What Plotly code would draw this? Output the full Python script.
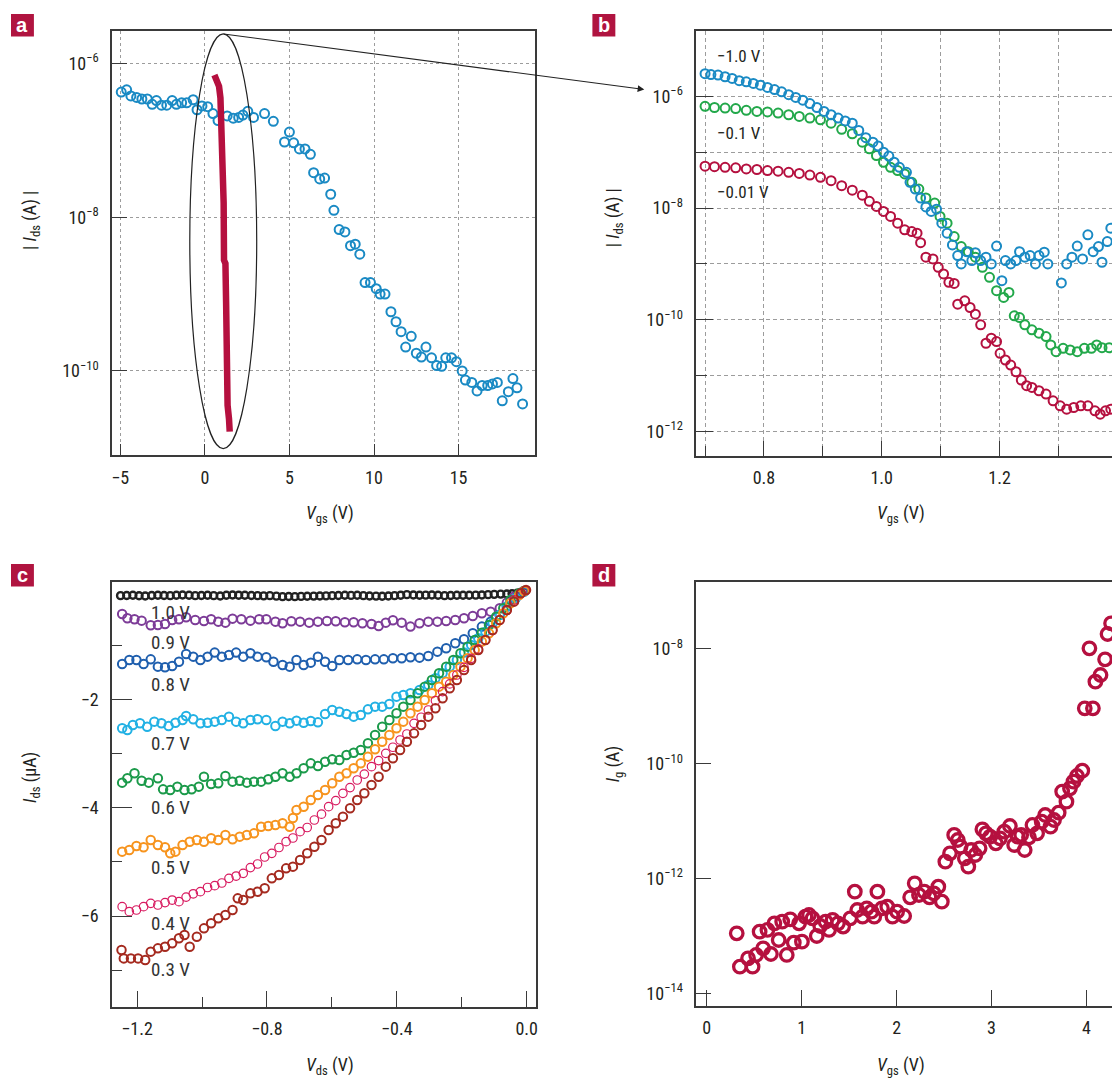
import plotly.graph_objects as go

# ---------------------------------------------------------------- data
# (a) transfer curve over the wide gate range: Vgs (V) and log10 |Ids| (A)
a_vgs = [-4.94, -4.62, -4.37, -4.03, -3.72, -3.40, -3.11, -2.86, -2.56, -2.25,
         -1.93, -1.68, -1.37, -1.07, -0.69, -0.46, -0.17, 0.17, 0.48, 0.78,
         1.32, 1.68, 2.00, 2.25, 2.54, 2.88, 3.53, 4.05, 5.00, 4.71,
         5.25, 5.59, 5.92, 6.24, 6.43, 6.79, 7.08, 7.44, 7.63, 7.94,
         8.28, 8.61, 8.89, 9.16, 9.47, 9.79, 10.13, 10.36, 10.65, 11.00,
         11.30, 11.60, 11.87, 12.20, 12.50, 12.80, 13.07, 13.40, 13.70, 14.00,
         14.24, 14.58, 14.87, 15.21, 15.40, 15.78, 16.09, 16.39, 16.72, 17.00,
         17.29, 17.58, 17.94, 18.21, 18.45, 18.78]
a_ids_log = [-6.37, -6.34, -6.42, -6.44, -6.46, -6.46, -6.53, -6.48, -6.54, -6.54,
             -6.48, -6.53, -6.51, -6.51, -6.47, -6.60, -6.55, -6.56, -6.65, -6.74,
             -6.68, -6.71, -6.70, -6.67, -6.62, -6.70, -6.65, -6.75, -6.89, -7.02,
             -7.03, -7.11, -7.11, -7.18, -7.42, -7.50, -7.49, -7.70, -7.91, -8.16,
             -8.19, -8.37, -8.35, -8.48, -8.85, -8.85, -8.93, -9.00, -9.00, -9.23,
             -9.36, -9.49, -9.69, -9.55, -9.77, -9.82, -9.69, -9.83, -9.93, -9.94,
             -9.83, -9.83, -9.88, -10.00, -10.12, -10.15, -10.26, -10.19, -10.19, -10.17,
             -10.15, -10.39, -10.27, -10.10, -10.22, -10.43]

# (a) narrow-range sweep drawn as a dense trace
a_fine_vgs = [0.567, 0.735, 0.84, 0.924, 0.966, 1.008, 1.092, 1.113, 1.134, 1.218,
              1.26, 1.282, 1.345, 1.429, 1.471]
a_fine_log = [-6.149, -6.229, -6.295, -6.448, -6.712, -7.196, -7.240, -7.811, -8.558, -8.602,
              -9.130, -10.009, -10.448, -10.624, -10.791]

# (b) transfer curves at three drain biases
b_vgs_10 = [0.700, 0.710, 0.722, 0.734, 0.746, 0.758, 0.770, 0.782, 0.794, 0.806,
            0.818, 0.830, 0.842, 0.854, 0.866, 0.878, 0.890, 0.902, 0.914, 0.926,
            0.938, 0.950, 0.961, 0.973, 0.985, 0.994, 1.003, 1.012, 1.021, 1.030,
            1.042, 1.048, 1.057, 1.066, 1.075, 1.084, 1.093, 1.102, 1.111, 1.120,
            1.129, 1.135, 1.144, 1.153, 1.159, 1.168, 1.177, 1.186, 1.195, 1.204,
            1.210, 1.219, 1.228, 1.234, 1.243, 1.252, 1.261, 1.267, 1.276, 1.282,
            1.305, 1.314, 1.323, 1.332, 1.341, 1.350, 1.359, 1.368, 1.374, 1.383, 1.389]
b_log_10 = [-5.594, -5.61, -5.62, -5.65, -5.68, -5.72, -5.74, -5.77, -5.80, -5.84,
            -5.88, -5.92, -5.97, -6.02, -6.07, -6.13, -6.20, -6.27, -6.33, -6.39,
            -6.44, -6.48, -6.61, -6.74, -6.82, -6.89, -7.00, -7.07, -7.18, -7.27,
            -7.36, -7.54, -7.66, -7.82, -7.98, -8.06, -8.02, -8.27, -8.45, -8.66,
            -8.85, -9.00, -8.78, -8.94, -8.80, -8.94, -8.88, -9.00, -8.68, -9.30,
            -8.94, -9.00, -8.94, -8.78, -8.88, -8.85, -9.00, -8.85, -8.79, -9.00,
            -9.34, -9.00, -8.88, -8.68, -8.91, -8.48, -8.78, -8.69, -8.97, -8.60, -8.36]

b_vgs_01 = [0.700, 0.716, 0.734, 0.752, 0.770, 0.788, 0.806, 0.824, 0.842, 0.860,
            0.878, 0.896, 0.914, 0.932, 0.950, 0.967, 0.979, 0.991, 1.003, 1.015,
            1.027, 1.039, 1.051, 1.063, 1.075, 1.090, 1.099, 1.111, 1.123, 1.135,
            1.147, 1.159, 1.171, 1.183, 1.195, 1.207, 1.216, 1.225, 1.234, 1.243,
            1.255, 1.267, 1.279, 1.287, 1.296, 1.308, 1.320, 1.332, 1.344, 1.356,
            1.365, 1.374, 1.386]
b_log_01 = [-6.18, -6.20, -6.21, -6.22, -6.25, -6.27, -6.28, -6.30, -6.33, -6.36,
            -6.39, -6.42, -6.48, -6.59, -6.67, -6.82, -6.94, -7.06, -7.18, -7.27,
            -7.33, -7.39, -7.54, -7.66, -7.82, -7.91, -8.15, -8.27, -8.51, -8.69,
            -8.78, -8.88, -9.06, -9.24, -9.48, -9.60, -9.51, -9.93, -9.96, -10.09,
            -10.18, -10.24, -10.30, -10.45, -10.57, -10.51, -10.54, -10.57, -10.51, -10.51,
            -10.45, -10.50, -10.50]

b_vgs_001 = [0.700, 0.716, 0.734, 0.752, 0.770, 0.788, 0.806, 0.824, 0.842, 0.860,
             0.878, 0.896, 0.914, 0.932, 0.950, 0.967, 0.979, 0.991, 1.003, 1.015,
             1.027, 1.039, 1.051, 1.060, 1.066, 1.075, 1.087, 1.096, 1.105, 1.114,
             1.123, 1.129, 1.141, 1.150, 1.159, 1.168, 1.177, 1.186, 1.195, 1.201,
             1.210, 1.219, 1.228, 1.237, 1.246, 1.255, 1.267, 1.279, 1.291, 1.303,
             1.314, 1.326, 1.338, 1.350, 1.362, 1.371, 1.380, 1.389]
b_log_001 = [-7.25, -7.26, -7.27, -7.28, -7.30, -7.31, -7.33, -7.34, -7.36, -7.38,
             -7.41, -7.45, -7.51, -7.60, -7.68, -7.77, -7.88, -7.97, -8.06, -8.15,
             -8.27, -8.39, -8.42, -8.45, -8.62, -8.88, -8.91, -9.06, -9.18, -9.33,
             -9.35, -9.72, -9.66, -9.78, -9.90, -10.09, -10.42, -10.33, -10.39, -10.60,
             -10.72, -10.81, -10.93, -11.08, -11.18, -11.21, -11.27, -11.33, -11.45, -11.54,
             -11.60, -11.57, -11.54, -11.54, -11.63, -11.69, -11.63, -11.60]
b_bias_labels = ["\u22121.0 V", "\u22120.1 V", "\u22120.01 V"]

# (c) output curves: Vds (V) vs Ids (uA) for gate voltages 1.0 ... 0.3 V
c_vds_10 = [-1.251, -1.232, -1.213, -1.194, -1.175, -1.155, -1.136, -1.117, -1.098, -1.079,
            -1.060, -1.040, -1.021, -1.002, -0.983, -0.964, -0.944, -0.925, -0.906, -0.887,
            -0.868, -0.848, -0.829, -0.810, -0.791, -0.771, -0.752, -0.733, -0.714, -0.695,
            -0.676, -0.656, -0.637, -0.618, -0.599, -0.580, -0.560, -0.541, -0.522, -0.503,
            -0.484, -0.464, -0.445, -0.426, -0.407, -0.388, -0.369, -0.349, -0.330, -0.311,
            -0.292, -0.273, -0.253, -0.234, -0.215, -0.196, -0.177, -0.157, -0.138, -0.119,
            -0.100, -0.080, -0.061, -0.045, -0.029, -0.018, -0.009]
c_ids_10 = [-0.086, -0.084, -0.080, -0.088, -0.092, -0.084, -0.080, -0.083, -0.086, -0.080,
            -0.074, -0.080, -0.086, -0.083, -0.080, -0.086, -0.092, -0.080, -0.074, -0.078,
            -0.080, -0.084, -0.086, -0.090, -0.086, -0.096, -0.105, -0.103, -0.105, -0.100,
            -0.098, -0.095, -0.092, -0.090, -0.086, -0.083, -0.080, -0.082, -0.080, -0.086,
            -0.092, -0.095, -0.098, -0.092, -0.086, -0.078, -0.068, -0.074, -0.080, -0.077,
            -0.074, -0.080, -0.086, -0.083, -0.080, -0.080, -0.080, -0.077, -0.074, -0.068,
            -0.062, -0.058, -0.055, -0.050, -0.043, -0.030, -0.012]

c_vds_09 = [-1.246, -1.230, -1.208, -1.186, -1.158, -1.136, -1.114, -1.092, -1.071, -1.049,
            -1.021, -0.994, -0.972, -0.950, -0.928, -0.906, -0.879, -0.851, -0.824, -0.802,
            -0.774, -0.752, -0.725, -0.698, -0.670, -0.643, -0.615, -0.588, -0.560, -0.533,
            -0.506, -0.478, -0.456, -0.434, -0.412, -0.385, -0.358, -0.330, -0.303, -0.275,
            -0.248, -0.220, -0.193, -0.166, -0.138, -0.111, -0.083, -0.061, -0.039, -0.012]
c_ids_09 = [-0.425, -0.505, -0.523, -0.548, -0.634, -0.628, -0.609, -0.535, -0.523, -0.486,
            -0.535, -0.554, -0.523, -0.566, -0.585, -0.511, -0.523, -0.548, -0.523, -0.523,
            -0.566, -0.597, -0.560, -0.566, -0.585, -0.566, -0.554, -0.560, -0.578, -0.578,
            -0.597, -0.609, -0.646, -0.585, -0.542, -0.585, -0.658, -0.597, -0.566, -0.566,
            -0.554, -0.535, -0.505, -0.462, -0.412, -0.382, -0.320, -0.215, -0.105, -0.012]

c_vds_08 = [-1.246, -1.224, -1.202, -1.180, -1.158, -1.136, -1.114, -1.092, -1.071, -1.049,
            -1.027, -1.005, -0.983, -0.961, -0.939, -0.917, -0.895, -0.873, -0.851, -0.829,
            -0.802, -0.780, -0.752, -0.730, -0.709, -0.687, -0.665, -0.643, -0.621, -0.599,
            -0.577, -0.550, -0.522, -0.495, -0.467, -0.440, -0.412, -0.385, -0.358, -0.330,
            -0.303, -0.275, -0.248, -0.220, -0.193, -0.166, -0.138, -0.111, -0.083, -0.061,
            -0.034, -0.009]
c_ids_08 = [-1.348, -1.274, -1.274, -1.348, -1.262, -1.397, -1.409, -1.385, -1.305, -1.163,
            -1.212, -1.274, -1.212, -1.138, -1.212, -1.182, -1.138, -1.212, -1.151, -1.212,
            -1.225, -1.305, -1.366, -1.397, -1.274, -1.366, -1.323, -1.212, -1.305, -1.385,
            -1.274, -1.274, -1.262, -1.274, -1.262, -1.262, -1.243, -1.243, -1.225, -1.231,
            -1.200, -1.120, -1.058, -0.966, -0.892, -0.782, -0.658, -0.566, -0.443, -0.289,
            -0.135, -0.012]

c_vds_07 = [-1.246, -1.230, -1.213, -1.191, -1.169, -1.147, -1.125, -1.103, -1.082, -1.060,
            -1.049, -1.027, -1.005, -0.983, -0.961, -0.939, -0.917, -0.895, -0.873, -0.851,
            -0.829, -0.802, -0.774, -0.752, -0.730, -0.709, -0.687, -0.665, -0.643, -0.621,
            -0.599, -0.577, -0.555, -0.533, -0.511, -0.489, -0.467, -0.445, -0.423, -0.401,
            -0.380, -0.358, -0.330, -0.303, -0.281, -0.259, -0.237, -0.215, -0.193, -0.171,
            -0.149, -0.127, -0.105, -0.083, -0.061, -0.034, -0.007]
c_ids_07 = [-2.535, -2.566, -2.474, -2.443, -2.505, -2.412, -2.443, -2.492, -2.431, -2.382,
            -2.308, -2.369, -2.443, -2.431, -2.412, -2.382, -2.320, -2.412, -2.443, -2.382,
            -2.369, -2.382, -2.492, -2.412, -2.443, -2.394, -2.431, -2.400, -2.425, -2.271,
            -2.197, -2.228, -2.271, -2.320, -2.289, -2.185, -2.135, -2.135, -2.086, -1.951,
            -1.920, -1.889, -1.828, -1.735, -1.612, -1.520, -1.397, -1.274, -1.138, -0.997,
            -0.874, -0.751, -0.597, -0.443, -0.289, -0.135, -0.012]

c_vds_06 = [-1.246, -1.230, -1.208, -1.186, -1.164, -1.136, -1.120, -1.098, -1.076, -1.054,
            -1.032, -1.010, -0.994, -0.972, -0.950, -0.928, -0.906, -0.884, -0.862, -0.840,
            -0.818, -0.796, -0.774, -0.752, -0.730, -0.709, -0.687, -0.665, -0.643, -0.621,
            -0.599, -0.577, -0.555, -0.533, -0.511, -0.489, -0.467, -0.445, -0.423, -0.401,
            -0.380, -0.358, -0.336, -0.314, -0.292, -0.270, -0.248, -0.226, -0.204, -0.182,
            -0.160, -0.138, -0.116, -0.094, -0.072, -0.050, -0.023, -0.007]
c_ids_06 = [-3.538, -3.458, -3.366, -3.502, -3.538, -3.458, -3.662, -3.674, -3.612, -3.674,
            -3.662, -3.612, -3.428, -3.563, -3.551, -3.415, -3.520, -3.502, -3.538, -3.520,
            -3.520, -3.477, -3.428, -3.366, -3.428, -3.366, -3.274, -3.182, -3.231, -3.151,
            -3.108, -3.120, -3.028, -2.985, -2.935, -2.812, -2.658, -2.505, -2.382, -2.258,
            -2.135, -2.012, -1.889, -1.766, -1.643, -1.520, -1.397, -1.274, -1.151, -1.028,
            -0.905, -0.769, -0.628, -0.474, -0.320, -0.166, -0.043, 0.006]

c_vds_05 = [-1.246, -1.224, -1.202, -1.180, -1.158, -1.136, -1.114, -1.098, -1.082, -1.060,
            -1.038, -1.016, -0.994, -0.972, -0.950, -0.928, -0.906, -0.884, -0.862, -0.840,
            -0.818, -0.796, -0.774, -0.752, -0.730, -0.720, -0.709, -0.687, -0.665, -0.643,
            -0.621, -0.599, -0.577, -0.555, -0.533, -0.511, -0.489, -0.467, -0.445, -0.423,
            -0.401, -0.380, -0.358, -0.336, -0.314, -0.292, -0.270, -0.248, -0.226, -0.204,
            -0.182, -0.160, -0.138, -0.116, -0.094, -0.072, -0.050, -0.023, -0.007]
c_ids_05 = [-4.812, -4.782, -4.708, -4.732, -4.597, -4.689, -4.732, -4.843, -4.812, -4.689,
            -4.628, -4.597, -4.628, -4.566, -4.597, -4.505, -4.585, -4.535, -4.505, -4.474,
            -4.351, -4.338, -4.320, -4.289, -4.351, -4.190, -4.043, -3.982, -3.858, -3.766,
            -3.674, -3.551, -3.428, -3.366, -3.274, -3.182, -3.058, -2.923, -2.782, -2.658,
            -2.535, -2.412, -2.258, -2.135, -2.012, -1.889, -1.766, -1.674, -1.551, -1.397,
            -1.243, -1.089, -0.935, -0.782, -0.597, -0.412, -0.228, -0.074, 0.0]

c_vds_04 = [-1.246, -1.224, -1.202, -1.180, -1.158, -1.136, -1.114, -1.092, -1.071, -1.049,
            -1.027, -1.005, -0.983, -0.961, -0.939, -0.917, -0.895, -0.873, -0.851, -0.829,
            -0.807, -0.785, -0.763, -0.741, -0.720, -0.698, -0.676, -0.654, -0.632, -0.610,
            -0.588, -0.566, -0.544, -0.522, -0.500, -0.478, -0.456, -0.434, -0.412, -0.390,
            -0.369, -0.347, -0.325, -0.303, -0.281, -0.259, -0.237, -0.215, -0.193, -0.171,
            -0.149, -0.127, -0.105, -0.083, -0.061, -0.039, -0.018, -0.004]
c_ids_04 = [-5.828, -5.920, -5.889, -5.828, -5.766, -5.797, -5.752, -5.705, -5.735, -5.651,
            -5.590, -5.551, -5.474, -5.440, -5.391, -5.305, -5.262, -5.212, -5.106, -5.040,
            -4.911, -4.843, -4.735, -4.628, -4.560, -4.443, -4.366, -4.228, -4.120, -3.982,
            -3.870, -3.735, -3.630, -3.489, -3.380, -3.243, -3.132, -2.997, -2.885, -2.751,
            -2.640, -2.443, -2.331, -2.197, -2.025, -1.858, -1.716, -1.551, -1.410, -1.243,
            -1.070, -0.905, -0.732, -0.535, -0.362, -0.166, -0.043, 0.006]

c_vds_03 = [-1.248, -1.241, -1.219, -1.197, -1.175, -1.158, -1.136, -1.114, -1.092, -1.071,
            -1.054, -1.038, -1.016, -0.994, -0.972, -0.950, -0.928, -0.906, -0.890, -0.873,
            -0.851, -0.829, -0.807, -0.785, -0.763, -0.741, -0.720, -0.698, -0.676, -0.654,
            -0.632, -0.610, -0.588, -0.566, -0.544, -0.522, -0.500, -0.478, -0.456, -0.434,
            -0.412, -0.390, -0.369, -0.347, -0.325, -0.303, -0.281, -0.259, -0.237, -0.215,
            -0.193, -0.171, -0.149, -0.127, -0.105, -0.083, -0.061, -0.039, -0.018, -0.002]
c_ids_03 = [-6.628, -6.782, -6.782, -6.782, -6.812, -6.658, -6.597, -6.566, -6.505, -6.412,
            -6.351, -6.566, -6.382, -6.228, -6.135, -6.043, -5.982, -5.889, -5.674, -5.705,
            -5.582, -5.551, -5.489, -5.305, -5.243, -5.120, -5.089, -4.966, -4.843, -4.720,
            -4.597, -4.412, -4.289, -4.166, -4.012, -3.858, -3.735, -3.582, -3.428, -3.243,
            -3.089, -2.935, -2.782, -2.628, -2.474, -2.320, -2.166, -1.982, -1.797, -1.643,
            -1.458, -1.274, -1.089, -0.905, -0.720, -0.535, -0.351, -0.197, -0.043, 0.018]

c_gate_labels = ["1.0 V", "0.9 V", "0.8 V", "0.7 V", "0.6 V", "0.5 V", "0.4 V", "0.3 V"]

# (d) gate leakage: Vgs (V) and log10 Ig (A)
d_vgs = [0.316, 0.349, 0.435, 0.483, 0.520, 0.557, 0.594, 0.639, 0.676, 0.713,
         0.758, 0.795, 0.843, 0.880, 0.917, 0.973, 1.003, 1.040, 1.077, 1.114,
         1.159, 1.196, 1.252, 1.289, 1.326, 1.382, 1.437, 1.512, 1.560, 1.586,
         1.642, 1.686, 1.735, 1.765, 1.798, 1.846, 1.902, 1.957, 2.006, 2.080,
         2.143, 2.191, 2.236, 2.292, 2.347, 2.392, 2.440, 2.477, 2.514, 2.563,
         2.607, 2.645, 2.674, 2.719, 2.756, 2.786, 2.830, 2.875, 2.904, 2.942,
         2.986, 3.046, 3.090, 3.135, 3.194, 3.239, 3.276, 3.313, 3.350, 3.395,
         3.432, 3.481, 3.529, 3.566, 3.622, 3.659, 3.708, 3.745, 3.790, 3.827,
         3.864, 3.901, 3.957, 3.983, 4.069, 4.032, 4.095, 4.149, 4.197, 4.223, 4.260]
d_ig_log = [-12.954, -13.534, -13.389, -13.534, -13.331, -12.925, -13.215, -12.895, -13.314, -12.779,
            -13.070, -12.750, -13.331, -12.710, -13.116, -12.779, -13.099, -12.663, -12.634, -12.692,
            -13.000, -12.826, -12.750, -12.895, -12.721, -12.779, -12.837, -12.692, -12.228, -12.547,
            -12.663, -12.518, -12.576, -12.663, -12.228, -12.518, -12.489, -12.663, -12.576, -12.652,
            -12.326, -12.083, -12.286, -12.228, -12.326, -12.257, -12.141, -12.402, -11.705, -11.560,
            -11.240, -11.328, -11.444, -11.647, -11.792, -11.502, -11.589, -11.473, -11.142, -11.211,
            -11.270, -11.386, -11.299, -11.182, -11.084, -11.415, -11.270, -11.240, -11.502, -11.281,
            -11.066, -11.211, -11.008, -10.892, -11.095, -10.979, -10.851, -10.485, -10.660, -10.427,
            -10.311, -10.213, -10.120, -9.034, -9.034, -7.988, -8.569, -8.453, -8.180, -7.739, -7.553]

# ---------------------------------------------------------------- style
W, H = 1114, 1079
FONT = ("Liberation Sans Narrow, Arial Narrow, Roboto Condensed, "
        "DejaVu Sans Condensed, Liberation Sans, sans-serif")
INK = "#231f20"
FRAME = "#3a3a3a"
GRID = "#9c9c9c"
CRIMSON = "#b5103f"
BLUE_A = "#1a8ac4"
GREEN_B = "#22a84a"

C_COLORS = ["#222222", "#7d3c98", "#1f5fae", "#22b1e4",
            "#1b9a4a", "#f7941e", "#d81b60", "#a52a1f"]


def fx(p):
    return p / W


def fy(p):
    return 1 - p / H


def pow10(vals):
    return [10 ** v for v in vals]


def sci(e):
    return "10<sup>\u2212%d</sup>" % e


def open_markers(color, size, width):
    return dict(symbol="circle-open", size=size, color=color,
                line=dict(color=color, width=width))


fig = go.Figure()

# (a)
fig.add_trace(go.Scatter(x=a_vgs, y=pow10(a_ids_log), mode="markers",
                         marker=open_markers(BLUE_A, 9, 2), xaxis="x", yaxis="y"))
fig.add_trace(go.Scatter(x=a_fine_vgs, y=pow10(a_fine_log), mode="lines",
                         line=dict(color=CRIMSON, width=6.5), xaxis="x", yaxis="y"))

# (b)
fig.add_trace(go.Scatter(x=b_vgs_01, y=pow10(b_log_01), mode="markers",
                         marker=open_markers(GREEN_B, 9, 2), xaxis="x2", yaxis="y2"))
fig.add_trace(go.Scatter(x=b_vgs_10, y=pow10(b_log_10), mode="markers",
                         marker=open_markers(BLUE_A, 9, 2), xaxis="x2", yaxis="y2"))
fig.add_trace(go.Scatter(x=b_vgs_001, y=pow10(b_log_001), mode="markers",
                         marker=open_markers(CRIMSON, 9, 2), xaxis="x2", yaxis="y2"))

# (c)
c_series = [(c_vds_10, c_ids_10), (c_vds_09, c_ids_09), (c_vds_08, c_ids_08),
            (c_vds_07, c_ids_07), (c_vds_06, c_ids_06), (c_vds_05, c_ids_05),
            (c_vds_04, c_ids_04), (c_vds_03, c_ids_03)]
for i, (vx, vy) in enumerate(c_series):
    size, lw = 8.5, 2
    if i == 0:
        size, lw = 7, 2.4
    if i == 6:
        lw = 1.2
    fig.add_trace(go.Scatter(x=vx, y=vy, mode="markers",
                             marker=open_markers(C_COLORS[i], size, lw),
                             xaxis="x3", yaxis="y3"))

# (d)
fig.add_trace(go.Scatter(x=d_vgs, y=pow10(d_ig_log), mode="markers",
                         marker=open_markers(CRIMSON, 12.5, 3.3), xaxis="x4", yaxis="y4"))

# ---------------------------------------------------------------- axes
tickfont = dict(family=FONT, size=18, color=INK)
common = dict(ticks="inside", tickcolor=FRAME, tickwidth=1.3, showline=True,
              linecolor=FRAME, linewidth=1.5, zeroline=False, tickfont=tickfont,
              tickmode="array")
xc = dict(common, ticklabelstandoff=5)
yc = dict(common, ticklabelstandoff=8)

layout = dict(
    width=W, height=H, margin=dict(l=0, r=0, t=0, b=0),
    paper_bgcolor="white", plot_bgcolor="white", showlegend=False,
    font=dict(family=FONT, color=INK),
    xaxis=dict(xc, domain=[fx(111.4), fx(535.7)], anchor="y",
               range=[-5.48, 19.53], tickvals=[-5, 0, 5, 10, 15],
               ticktext=["\u22125", "0", "5", "10", "15"], ticklen=12, mirror=True,
               showgrid=True, gridcolor=GRID, griddash="dot", gridwidth=1),
    yaxis=dict(yc, domain=[fy(455.4), fy(31.4)], anchor="x", type="log",
               range=[-11.10, -5.58], tickvals=[1e-6, 1e-8, 1e-10],
               ticktext=[sci(6), sci(8), sci(10)], ticklen=15, mirror=True,
               showgrid=True, gridcolor=GRID, griddash="dot", gridwidth=1),
    xaxis2=dict(xc, domain=[fx(697.1), 1.0], anchor="y2",
                range=[0.685, 1.391], tickvals=[0.8, 1.0, 1.2, 1.4],
                ticktext=["0.8", "1.0", "1.2", "1.4"], ticklen=15, mirror=True,
                showgrid=True, gridcolor=GRID, griddash="4px,3px", gridwidth=1,
                minor=dict(tickmode="array", tickvals=[0.7, 0.9, 1.1, 1.3], ticks="inside",
                           ticklen=10, tickcolor=FRAME, tickwidth=1.3, showgrid=True,
                           gridcolor=GRID, griddash="4px,3px", gridwidth=1)),
    yaxis2=dict(yc, domain=[fy(456.1), fy(31.4)], anchor="x2", type="log",
                range=[-12.44, -4.838], tickvals=[1e-6, 1e-8, 1e-10, 1e-12],
                ticktext=[sci(6), sci(8), sci(10), sci(12)], ticklen=17, mirror=False,
                showgrid=True, gridcolor=GRID, griddash="4px,3px", gridwidth=1,
                minor=dict(tickmode="array", tickvals=[1e-7, 1e-9, 1e-11], ticks="inside",
                           ticklen=11, tickcolor=FRAME, tickwidth=1.3, showgrid=True,
                           gridcolor=GRID, griddash="4px,3px", gridwidth=1)),
    xaxis3=dict(xc, domain=[fx(111.4), fx(536.4)], anchor="y3",
                range=[-1.277, 0.0286], tickvals=[-1.2, -0.8, -0.4, 0.0],
                ticktext=["\u22121.2", "\u22120.8", "\u22120.4", "0.0"], ticklen=16,
                mirror=True, showgrid=False,
                minor=dict(tickmode="array", tickvals=[-1.0, -0.6, -0.2], ticks="inside",
                           ticklen=10, tickcolor=FRAME, tickwidth=1.3, showgrid=False)),
    yaxis3=dict(yc, domain=[fy(1006.7), fy(582.3)], anchor="x3",
                range=[-7.674, 0.16], tickvals=[-2, -4, -6],
                ticktext=["\u22122", "\u22124", "\u22126"], ticklen=20, mirror=True,
                showgrid=False,
                minor=dict(tickmode="array", tickvals=[-1, -3, -5, -7], ticks="inside",
                           ticklen=10, tickcolor=FRAME, tickwidth=1.3, showgrid=False)),
    xaxis4=dict(xc, domain=[fx(697.1), 1.0], anchor="y4",
                range=[-0.111, 4.27], tickvals=[0, 1, 2, 3, 4],
                ticktext=["0", "1", "2", "3", "4"], ticklen=16, mirror=True,
                showgrid=False),
    yaxis4=dict(yc, domain=[fy(1006), fy(582.3)], anchor="x4", type="log",
                range=[-14.22, -6.838], tickvals=[1e-8, 1e-10, 1e-12, 1e-14],
                ticktext=[sci(8), sci(10), sci(12), sci(14)], ticklen=15, mirror=False,
                showgrid=False),
)
fig.update_layout(**layout)

# ---------------------------------------------------------------- text
ann = []
title_font = dict(family=FONT, size=18, color=INK)


def text(x, y, s, **kw):
    d = dict(x=fx(x), y=fy(y), xref="paper", yref="paper", text=s, showarrow=False,
             xanchor="center", yanchor="middle", font=kw.pop("font", title_font))
    d.update(kw)
    ann.append(d)


vgs_title = "<i>V</i><sub>gs</sub> (V)"
text(330, 514, vgs_title)
text(902, 514, vgs_title)
text(30, 220, "| <i>I</i><sub>ds</sub> (A) |", textangle=-90)
text(615, 218, "| <i>I</i><sub>ds</sub> (A) |", textangle=-90)
text(330, 1066, "<i>V</i><sub>ds</sub> (V)")
text(902, 1066, vgs_title)
text(30, 777, "<i>I</i><sub>ds</sub> (\u00b5A)", textangle=-90)
text(615, 764, "<i>I</i><sub>g</sub> (A)", textangle=-90)

# bias labels in (b)
for s, yy in zip(b_bias_labels, [56, 133, 192]):
    text(716, yy, s, xanchor="left", font=dict(family=FONT, size=17, color=INK))

# gate-voltage labels in (c)
for s, yy in zip(c_gate_labels, [612, 642, 684, 743, 807, 867, 923, 969]):
    text(148, yy, s, xanchor="left", font=dict(family=FONT, size=19, color="#333333"))

# panel letters
shapes = []
for letter, (x0, y0) in {"a": (10, 14), "b": (593, 14),
                         "c": (10, 564), "d": (593, 564)}.items():
    shapes.append(dict(type="rect", xref="paper", yref="paper",
                       x0=fx(x0), x1=fx(x0 + 23), y0=fy(y0 + 22.5), y1=fy(y0),
                       fillcolor="#b01440", line=dict(width=0), layer="below"))
    text(x0 + 11.5, y0 + 10.5, "<b>%s</b>" % letter,
         font=dict(family="Liberation Sans, Arial, sans-serif", size=20, color="white"))

# zoom ellipse around the narrow sweep in (a) and the arrow leading to (b)
shapes.append(dict(type="circle", xref="paper", yref="paper",
                   x0=fx(189.3), x1=fx(256.4), y0=fy(448.6), y1=fy(33.8),
                   line=dict(color="#222222", width=1.2)))
ann.append(dict(x=fx(645), y=fy(89.5), xref="paper", yref="paper", text="",
                showarrow=True, arrowhead=2, arrowsize=1.1, arrowwidth=1.2,
                arrowcolor="#222222", ax=222.9 - 645, ay=33.8 - 89.5,
                axref="pixel", ayref="pixel", standoff=0, startstandoff=0))

fig.update_layout(annotations=ann, shapes=shapes)
fig.write_html("out.html")
